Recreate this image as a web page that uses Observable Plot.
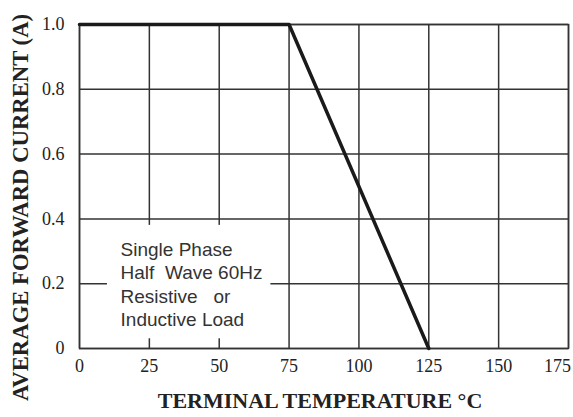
<!DOCTYPE html>
<html><head><meta charset="utf-8">
<script src="https://cdn.jsdelivr.net/npm/d3@7"></script>
<script src="https://cdn.jsdelivr.net/npm/@observablehq/plot@0.6"></script>
<style>
body{margin:0;background:#fff}
svg text{white-space:pre}
</style>
</head><body><div id="chart"></div>
<script>
const temperature = [0, 75, 125];
const current = [1.0, 1.0, 0];
const xTicks = [0, 25, 50, 75, 100, 125, 150, 175];
const yTicks = [0, 0.2, 0.4, 0.6, 0.8, 1.0];
const yTickLabels = ["0", "0.2", "0.4", "0.6", "0.8", "1.0"];
const noteLines = ["Single Phase", "Half  Wave 60Hz", "Resistive   or", "Inductive Load"];
const noteBox = [{x1: 10, x2: 68.5, y1: 0.03, y2: 0.38}];
const xTitle = "TERMINAL TEMPERATURE \u00B0C";
const yTitle = "AVERAGE FORWARD CURRENT (A)";

const data = temperature.map((t, i) => ({t, a: current[i]}));
const grid = "#333";
const serif = "'Liberation Serif', 'Times New Roman', serif";

const chart = Plot.plot({
  width: 573,
  height: 417,
  marginLeft: 79,
  marginRight: 5,
  marginTop: 24,
  marginBottom: 69,
  style: {fontFamily: serif, background: "#fff", color: "#222"},
  x: {domain: [0, 175]},
  y: {domain: [0, 1]},
  marks: [
    Plot.ruleX(xTicks, {stroke: grid, strokeWidth: 1.5}),
    Plot.ruleY(yTicks, {stroke: grid, strokeWidth: 1.5}),
    Plot.rect(noteBox, {x1: "x1", x2: "x2", y1: "y1", y2: "y2", fill: "white"}),
    Plot.frame({stroke: grid, strokeWidth: 1.5}),
    Plot.text([noteLines.join("\n")], {
      x: 14.7, y: 0.2, textAnchor: "start", lineHeight: 1.23,
      fontSize: 19, fill: "#333", fontFamily: "'Liberation Sans', Arial, sans-serif"
    }),
    Plot.line(data, {x: "t", y: "a", stroke: "#1a1a1a", strokeWidth: 3.5}),
    Plot.axisX(xTicks.slice(0, -1), {tickSize: 0, tickPadding: 11, fontSize: 18, label: null, fill: "#222"}),
    Plot.axisX(xTicks.slice(-1), {tickSize: 0, tickPadding: 11, fontSize: 18, label: null, fill: "#222", dx: -11}),
    Plot.axisY(yTicks, {tickSize: 0, tickPadding: 15, fontSize: 18, label: null, fill: "#222",
      tickFormat: d => yTickLabels[yTicks.indexOf(d)]}),
    Plot.text([xTitle], {frameAnchor: "bottom", textAnchor: "middle", lineAnchor: "middle",
      dx: -4, dy: 52, fontSize: 22, fontWeight: "bold", fill: "#222"}),
    Plot.text([yTitle], {frameAnchor: "left", textAnchor: "middle", lineAnchor: "middle",
      dx: -59, dy: 21, rotate: -90, fontSize: 22.7, fontWeight: "bold", fill: "#222"})
  ]
});
document.getElementById("chart").appendChild(chart);
</script>
</body></html>
